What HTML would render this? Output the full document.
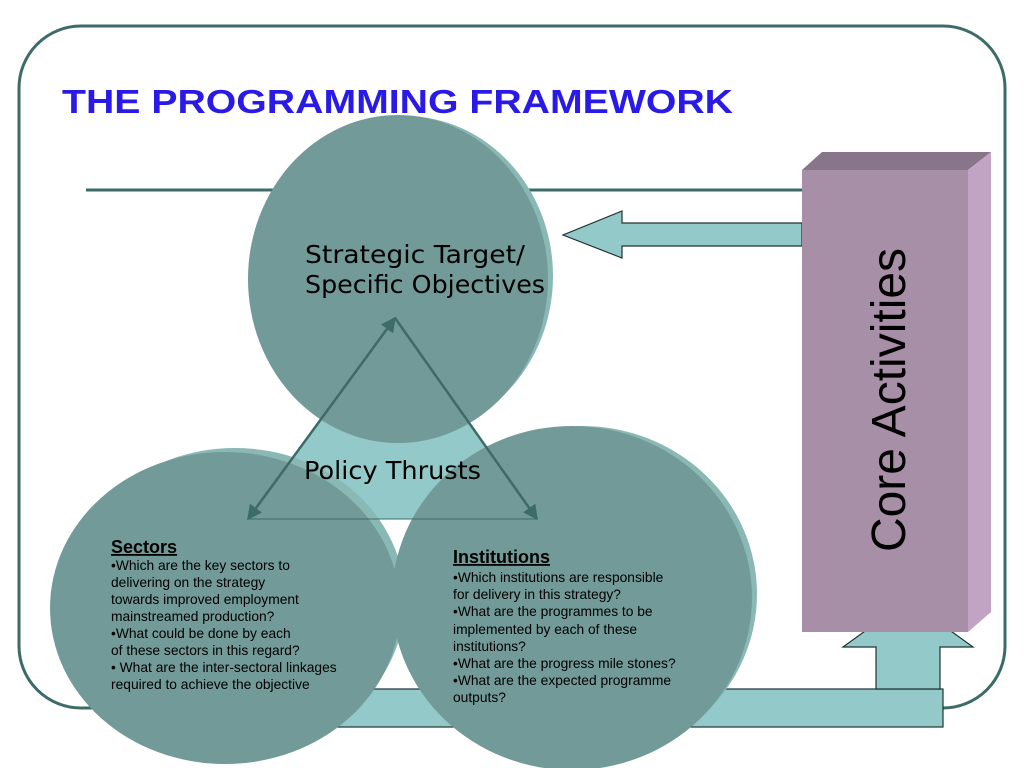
<!DOCTYPE html>
<html><head><meta charset="utf-8"><style>
body{margin:0;background:#fff}
svg{display:block}
text{font-family:"Liberation Sans",sans-serif}
.dj{font-family:"DejaVu Sans",sans-serif}
</style></head><body>
<svg width="1024" height="768" viewBox="0 0 1024 768">
<defs>
<marker id="ah" viewBox="0 0 10 10" refX="9" refY="5" markerWidth="6" markerHeight="6" orient="auto-start-reverse"><path d="M0,0 L10,5 L0,10 z" fill="#3d6b68"/></marker>
</defs>
<rect x="19" y="26" width="986" height="682" rx="62" fill="none" stroke="#3d6b68" stroke-width="3"/>
<text x="62" y="113" font-size="33" font-weight="bold" fill="#2a1ae8" textLength="671" lengthAdjust="spacingAndGlyphs">THE PROGRAMMING FRAMEWORK</text>
<line x1="86" y1="190" x2="802" y2="190" stroke="#3d6b68" stroke-width="3"/>
<rect x="330" y="689" width="613" height="38" fill="#93c9c8" stroke="#1e3433" stroke-width="1.2"/>
<polygon points="876,689 876,647 843,647 908,600 973,647 940,647 940,689" fill="#93c9c8" stroke="#1e3433" stroke-width="1.2"/>
<polygon points="802,223 622,223 622,211 563,235 622,258 622,246 802,246" fill="#93c9c8" stroke="#1e3433" stroke-width="1.2"/>
<polygon points="395,318 248,519 537,519" fill="#93c9c8" stroke="#1e3433" stroke-width="1"/>
<ellipse cx="405" cy="276" rx="148" ry="160" fill="#8ab8b5"/>
<ellipse cx="398" cy="279" rx="150" ry="164" fill="#729a98"/>
<ellipse cx="235" cy="600" rx="170" ry="152" fill="#8ab8b5"/>
<ellipse cx="225" cy="608" rx="175" ry="156" fill="#729a98"/>
<ellipse cx="582" cy="594" rx="175" ry="168" fill="#8ab8b5"/>
<ellipse cx="572" cy="598" rx="180" ry="172" fill="#729a98"/>
<line x1="395" y1="318" x2="248" y2="519" stroke="#3d6b68" stroke-width="2.5" marker-start="url(#ah)" marker-end="url(#ah)"/>
<line x1="395" y1="318" x2="537" y2="519" stroke="#3d6b68" stroke-width="2.5" marker-end="url(#ah)"/>
<line x1="248" y1="519" x2="537" y2="519" stroke="#3d6b68" stroke-width="1"/>
<polygon points="802,170 822,152 991,152 968,170" fill="#87768a"/>
<polygon points="968,170 991,152 991,612 968,632" fill="#c1a3c3"/>
<rect x="802" y="170" width="166" height="462" fill="#a78fa8"/>
<text transform="translate(905,400) rotate(-90)" text-anchor="middle" font-size="48" fill="#000">Core  Activities</text>
<text class="dj" x="305" y="263" font-size="24.5" fill="#000" textLength="220" lengthAdjust="spacingAndGlyphs">Strategic Target/</text>
<text class="dj" x="305" y="293" font-size="24.5" fill="#000" textLength="240" lengthAdjust="spacingAndGlyphs">Specific Objectives</text>
<text class="dj" x="304" y="479" font-size="24.5" fill="#000" textLength="177" lengthAdjust="spacingAndGlyphs">Policy Thrusts</text>
<g font-size="13.8" fill="#000">
<text x="111" y="553" font-size="18" font-weight="bold" text-decoration="underline">Sectors</text>
<text x="111" y="570">•Which are the key sectors to</text>
<text x="111" y="587">delivering on the strategy</text>
<text x="111" y="604">towards improved employment</text>
<text x="111" y="621">mainstreamed production?</text>
<text x="111" y="638">•What could be done by each</text>
<text x="111" y="655">of these sectors in this regard?</text>
<text x="111" y="672">• What are the inter-sectoral linkages</text>
<text x="111" y="689">required to achieve the objective</text>
<text x="453" y="563" font-size="18" font-weight="bold" text-decoration="underline">Institutions</text>
<text x="453" y="582">•Which institutions are responsible</text>
<text x="453" y="599"> for delivery in this strategy?</text>
<text x="453" y="616">•What are the programmes to be</text>
<text x="453" y="634">implemented by each of these</text>
<text x="453" y="651">institutions?</text>
<text x="453" y="668">•What are the progress mile stones?</text>
<text x="453" y="685">•What are the expected programme</text>
<text x="453" y="702">outputs?</text>
</g>
</svg>
</body></html>
